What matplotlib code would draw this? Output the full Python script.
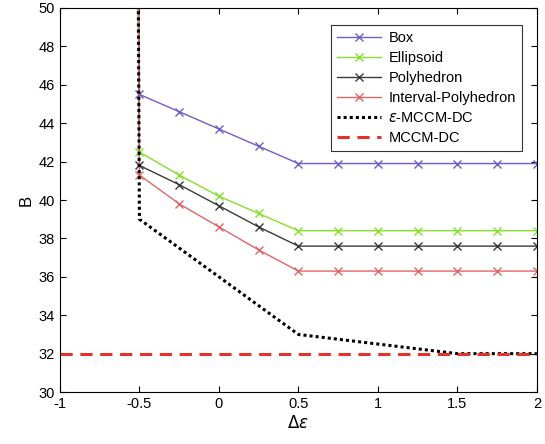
import matplotlib.pyplot as plt

plt.rcParams["font.family"] = ["Liberation Sans", "DejaVu Sans"]
plt.rcParams["mathtext.fontset"] = "dejavusans"

# sample points on the delta-epsilon axis (the -0.51 point is where B blows up)
x_vals = [-0.51, -0.5, -0.25, 0, 0.25, 0.5, 0.75, 1, 1.25, 1.5, 1.75, 2]

box = [55, 45.5, 44.6, 43.7, 42.8, 41.9, 41.9, 41.9, 41.9, 41.9, 41.9, 41.9]
ellipsoid = [55, 42.5, 41.3, 40.2, 39.3, 38.4, 38.4, 38.4, 38.4, 38.4, 38.4, 38.4]
polyhedron = [55, 41.8, 40.8, 39.7, 38.6, 37.6, 37.6, 37.6, 37.6, 37.6, 37.6, 37.6]
interval_poly = [55, 41.3, 39.8, 38.6, 37.4, 36.3, 36.3, 36.3, 36.3, 36.3, 36.3, 36.3]

eps_x = [-0.51, -0.5, 0, 0.5, 1, 1.5, 2]
eps_mccm = [55, 39, 36, 33, 32.5, 32, 32]

mccm_x = [-1, 2]
mccm = [32, 32]


def main() -> None:
    fig = plt.figure(figsize=(5.45, 4.44), dpi=100)
    ax = fig.add_axes([0.110, 0.117, 0.875, 0.865])

    series = [
        (box, "#6a5fd0", "Box"),
        (ellipsoid, "#86e02a", "Ellipsoid"),
        (polyhedron, "#3a3a3a", "Polyhedron"),
        (interval_poly, "#e06666", "Interval-Polyhedron"),
    ]
    for values, color, label in series:
        ax.plot(x_vals, values, color=color, marker="x", markersize=6,
                linewidth=1.0, markeredgewidth=1.0, label=label)

    ax.plot(eps_x, eps_mccm, color="black", linestyle=(0, (1, 1)),
            linewidth=2.2, label=r"$\epsilon$-MCCM-DC")
    ax.plot(mccm_x, mccm, color="#e8302a", linestyle=(0, (4, 2.5)),
            linewidth=2.2, label="MCCM-DC")

    ax.set_xlim(-1, 2)
    ax.set_ylim(30, 50)
    ax.set_xticks([-1, -0.5, 0, 0.5, 1, 1.5, 2])
    ax.set_xticklabels(["-1", "-0.5", "0", "0.5", "1", "1.5", "2"])
    ax.set_yticks(range(30, 51, 2))
    ax.tick_params(direction="in", top=True, right=True, labelsize=10.5, length=4)
    ax.set_xlabel(r"$\Delta\epsilon$", fontsize=12, labelpad=2)
    ax.set_ylabel("B", fontsize=12, labelpad=4)

    leg = ax.legend(loc="upper right", bbox_to_anchor=(0.985, 0.975),
                    fontsize=10.5, frameon=True, fancybox=False,
                    edgecolor="black", handlelength=3.0, borderpad=0.45,
                    labelspacing=0.4, handletextpad=0.5)
    leg.get_frame().set_linewidth(0.8)

    fig.savefig("out.png", dpi=100)
    plt.close(fig)


if __name__ == "__main__":
    main()
